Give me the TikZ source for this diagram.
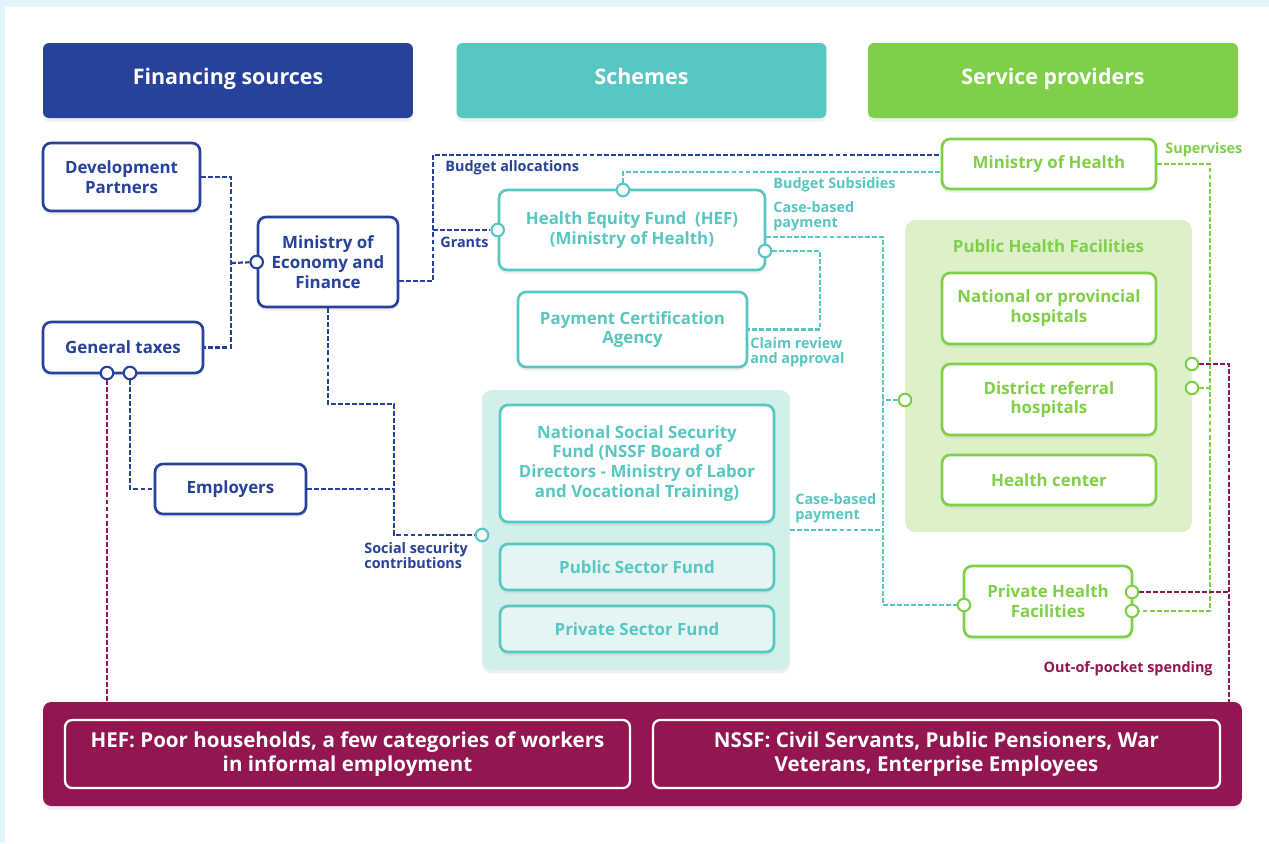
\documentclass[tikz,border=0pt]{standalone}
\usepackage{fontspec}
\setmainfont{Open Sans}
\usepackage{tikz}
\usetikzlibrary{positioning,calc,shadows}
\definecolor{FinBlue}{HTML}{26429A}
\definecolor{SchTeal}{HTML}{58C6C1}
\definecolor{ProvGreen}{HTML}{80CF48}
\definecolor{PopRed}{HTML}{931650}
\definecolor{FrameBlue}{HTML}{E3F4FB}
\definecolor{TealPale}{HTML}{D2EFEC}
\definecolor{GreenPale}{HTML}{DDF1C9}
\newcommand\boxfont{\fontsize{9.6}{11.3}\selectfont\bfseries}
\newcommand\tagfont{\fontsize{8.2}{8.8}\selectfont\bfseries}
\tikzset{
  softshadow/.style={drop shadow={opacity=0.12,shadow xshift=0pt,shadow yshift=-2pt}},
  headbox/.style={rounded corners=1.2mm,minimum width=7.4cm,minimum height=1.5cm,text height=0.75em,text depth=0.25em,text=white,font=\fontsize{12.2}{14}\selectfont\bfseries,softshadow},
  flowbox/.style={draw=#1,text=#1,line width=1.5pt,fill=white,rounded corners=1.6mm,align=center,inner sep=2pt,font=\boxfont,softshadow},
  groupbox/.style={rounded corners=2mm,inner sep=0pt},
  popbox/.style={draw=white,text=white,line width=1.3pt,rounded corners=1.4mm,align=center,font=\fontsize{11.7}{13.6}\selectfont\bfseries},
  port/.style={circle,draw=#1,fill=white,line width=1.2pt,inner sep=0pt,minimum size=0.25cm},
  link/.style={draw=#1,line width=1.25pt,dash pattern=on 2.8pt off 1.2pt},
  tag/.style={text=#1,font=\tagfont,align=left,inner sep=0pt}
}
\begin{document}
\begin{tikzpicture}[x=0.02cm,y=-0.02cm]
\useasboundingbox (0,0) rectangle (1269,843);
\fill[FrameBlue] (0,0) rectangle (1269,843);
\fill[white] (5,7) rectangle (1269,843);

% column headers
\node[headbox,fill=FinBlue] (hfin) at (228,80.5) {Financing sources};
\node[headbox,fill=SchTeal] (hsch) at (641.5,80.5) {Schemes};
\node[headbox,fill=ProvGreen] (hprov) at (1053,80.5) {Service providers};

% financing sources
\node[flowbox=FinBlue,minimum width=3.14cm,minimum height=1.36cm] (dp) at (121.5,177) {Development\\Partners};
\node[flowbox=FinBlue,minimum width=3.2cm,minimum height=1.02cm] (tax) at (123,347.5) {General taxes};
\node[flowbox=FinBlue,minimum width=2.8cm,minimum height=1.8cm] (mef) at (328,262) {Ministry of\\Economy and\\Finance};
\node[flowbox=FinBlue,minimum width=3.02cm,minimum height=1cm] (emp) at (230.5,489) {Employers};

% schemes
\node[groupbox,fill=TealPale,softshadow,minimum width=6.16cm,minimum height=5.6cm] (ngrp) at (636,530) {};
\node[flowbox=SchTeal,minimum width=5.32cm,minimum height=1.6cm] (hef) at (632,230) {Health Equity Fund\hspace{0.5em}(HEF)\\(Ministry of Health)};
\node[flowbox=SchTeal,minimum width=4.58cm,minimum height=1.5cm] (pca) at (632.5,329.5) {Payment Certification\\Agency};
\node[flowbox=SchTeal,minimum width=5.48cm,minimum height=2.34cm] (nssf) at (637,463.5) {National Social Security\\Fund (NSSF Board of\\Directors - Ministry of Labor\\and Vocational Training)};
\node[flowbox=SchTeal,fill=TealPale!60!white,minimum width=5.48cm,minimum height=0.92cm] (pubf) at (637,567) {Public Sector Fund};
\node[flowbox=SchTeal,fill=TealPale!60!white,minimum width=5.48cm,minimum height=0.92cm] (privf) at (637,629) {Private Sector Fund};

% service providers
\node[groupbox,fill=GreenPale,minimum width=5.74cm,minimum height=6.24cm] (pgrp) at (1048.5,376) {};
\node[text=ProvGreen,font=\boxfont] (pgtitle) at (1048.5,246) {Public Health Facilities};
\node[flowbox=ProvGreen,minimum width=4.28cm,minimum height=1cm] (moh) at (1049,164) {Ministry of Health};
\node[flowbox=ProvGreen,minimum width=4.28cm,minimum height=1.42cm] (nat) at (1049,308.5) {National or provincial\\hospitals};
\node[flowbox=ProvGreen,minimum width=4.28cm,minimum height=1.42cm] (dist) at (1049,399.5) {District referral\\hospitals};
\node[flowbox=ProvGreen,minimum width=4.28cm,minimum height=1cm] (hc) at (1049,480) {Health center};
\node[flowbox=ProvGreen,minimum width=3.36cm,minimum height=1.42cm] (phf) at (1048,601.5) {Private Health\\Facilities};

% population covered
\node[fill=PopRed,rounded corners=1.6mm,minimum width=23.98cm,minimum height=2.08cm,softshadow] (pop) at (642.5,754) {};
\node[popbox,minimum width=11.3cm,minimum height=1.36cm] (hefpop) at (347.5,754) {HEF: Poor households, a few categories of workers\\in informal employment};
\node[popbox,minimum width=11.34cm,minimum height=1.36cm] (nssfpop) at (936.5,754) {NSSF: Civil Servants, Public Pensioners, War\\Veterans, Enterprise Employees};

% junctions
\coordinate (jdp) at (231,263);
\coordinate (jbud) at (433,155);
\coordinate (jgr) at (433,230);
\coordinate (jss) at (394,404);
\coordinate (jcase) at (883,605);
\coordinate (jcl) at (820,300);
\coordinate (jsup) at (1210,611);
\coordinate (jcr) at (1229,702);

% links
\draw[link=FinBlue] (dp.east) -| (jdp) |- (tax.east);
\draw[link=FinBlue] ($(mef.east)+(0,19)$) -| (jbud) -- (jbud -| moh.west);
\draw[link=FinBlue] (mef.south) |- (jss) |- (482,535);
\draw[link=FinBlue] (emp.east) -- (emp.east -| jss);
\draw[link=PopRed] (107,373) -- (107,702);
\draw[link=FinBlue] (130,373) |- (emp.west);
\draw[link=SchTeal] (623,190) |- ($(moh.west)+(0,8)$);
\draw[link=SchTeal] ($(hef.east)+(0,7)$) -| (jcase) -- (964,605);
\draw[link=SchTeal] (ngrp.east) -- (ngrp.east -| jcase);
\draw[link=SchTeal] (905,400) -- (883,400);
\draw[link=SchTeal] (765,251) -| (jcl) |- (pca.east);
\draw[link=ProvGreen] (moh.east) -| (jsup) -- (1132,611);
\draw[link=ProvGreen] (1192,388) -- (1210,388);
\draw[link=PopRed] (1192,364) -| (jcr);
\draw[link=PopRed] (1132,592) -- (1229,592);

% ports
\node[port=FinBlue] (mefin) at (mef.west) {};
\node[port=SchTeal] (hefin) at (hef.west) {};
\draw[link=FinBlue] (jdp) -- (mefin);
\draw[link=FinBlue] (jgr) -- (hefin);
\node[port=FinBlue] (taxcr) at (107,373) {};
\node[port=FinBlue] (taxbl) at (130,373) {};
\node[port=SchTeal] (ngin) at (482,535) {};
\node[port=SchTeal] (heftop) at (623,190) {};
\node[port=SchTeal] (hefout) at (765,251) {};
\node[port=ProvGreen] (pgin) at (905,400) {};
\node[port=ProvGreen] (pgcr) at (1192,364) {};
\node[port=ProvGreen] (pggr) at (1192,388) {};
\node[port=ProvGreen] (phfin) at (964,605) {};
\node[port=ProvGreen] (phfcr) at (1132,592) {};
\node[port=ProvGreen] (phfgr) at (1132,611) {};

% labels
\node[tag=FinBlue,anchor=west] (lbud) at (445,168) {Budget allocations};
\node[tag=FinBlue,anchor=west] (lgr) at (440,242) {Grants};
\node[tag=FinBlue,anchor=north west] (lss) at (364,542) {Social security\\contributions};
\node[tag=SchTeal,anchor=west] (lsub) at (773,185) {Budget Subsidies};
\node[tag=SchTeal,anchor=west] (lcase) at (773,216) {Case-based\\payment};
\node[tag=SchTeal,anchor=west] (lclaim) at (750,352) {Claim review\\and approval};
\node[tag=SchTeal,anchor=west] (lcase2) at (795,508) {Case-based\\payment};
\node[tag=ProvGreen,anchor=west] (lsup) at (1165,150) {Supervises};
\node[tag=PopRed,anchor=east] (loop) at (1213,669) {Out-of-pocket spending};
\end{tikzpicture}
\end{document}
